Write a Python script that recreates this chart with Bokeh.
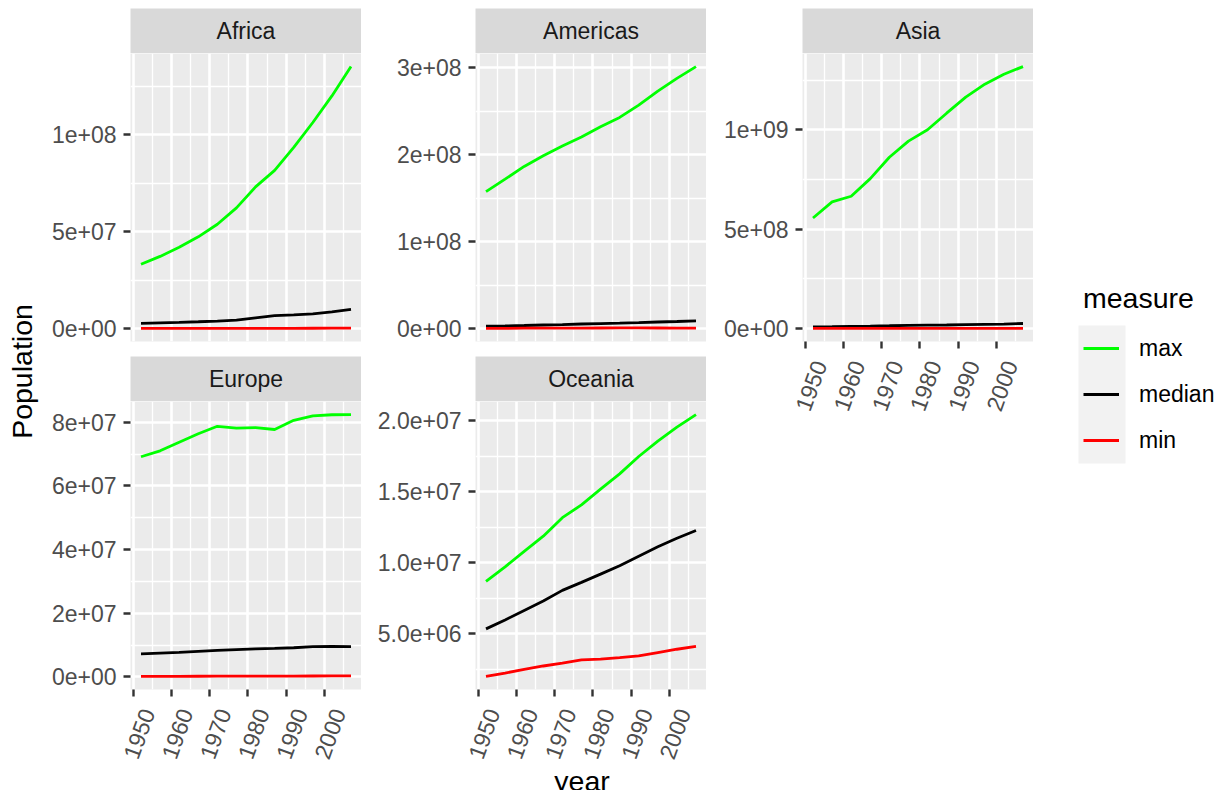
import math
from bokeh.plotting import figure
from bokeh.models import Range1d, FixedTicker, Label, Legend, LegendItem, BoxAnnotation
from bokeh.layouts import row, column
from bokeh.embed import file_html
from bokeh.resources import INLINE
from bokeh.core.validation import silence
from bokeh.core.validation.warnings import MISSING_RENDERERS

silence(MISSING_RENDERERS, True)

# ---------------- data ----------------
years = [1952, 1957, 1962, 1967, 1972, 1977, 1982, 1987, 1992, 1997, 2002, 2007]
measures = ["max", "median", "min"]
measure_colors = ["#00FF00", "#000000", "#FF0000"]

africa_max = [33119096, 37173340, 41871351, 47287752, 53740085, 62209173,
              73039376, 81551520, 93364244, 106207839, 119901274, 135031164]
africa_median = [2700000, 2950000, 3200000, 3500000, 3850000, 4300000,
                 5500000, 6600000, 7000000, 7600000, 8600000, 9900000]
africa_min = [60011, 61325, 65345, 70787, 76595, 86796,
              98593, 110812, 125911, 145608, 170372, 199579]

americas_max = [157553000, 171984000, 186538000, 198712000, 209896000, 220239000,
                232187835, 242803533, 256894189, 272911760, 287675526, 301139947]
americas_median = [3150000, 3500000, 4000000, 4600000, 5000000, 5700000,
                   6200000, 6700000, 7300000, 8000000, 8600000, 9300000]
americas_min = [662850, 764900, 887498, 960155, 975199, 1039009,
                1116479, 1191336, 1183669, 1138101, 1101832, 1056608]

asia_max = [556263527, 637408000, 665770000, 754550000, 862030000, 943455000,
            1000281000, 1084035000, 1164970000, 1230075000, 1280400000, 1318683096]
asia_median = [7982342, 9128546, 10538000, 11900000, 13500000, 15300000,
               16500000, 17300000, 19000000, 20500000, 22200000, 24821286]
asia_min = [120447, 138655, 171863, 202182, 230800, 297410,
            377967, 454612, 529491, 598561, 656397, 708573]

europe_max = [69145952, 71019069, 73739117, 76368453, 78717088, 78160773,
              78335266, 77718298, 80597764, 82011073, 82350671, 82400996]
europe_median = [7200000, 7450000, 7700000, 8000000, 8300000, 8550000,
                 8800000, 8950000, 9150000, 9500000, 9550000, 9500000]
europe_min = [147962, 165110, 182053, 198676, 209275, 221823,
              233997, 244676, 259012, 271192, 288030, 301931]

oceania_max = [8691212, 9712569, 10794968, 11872264, 13177000, 14074100,
               15184200, 16257249, 17481977, 18565243, 19546792, 20434176]
oceania_median = [5343003, 5970988, 6641759, 7300207, 8053050, 8619500,
                  9197425, 9787208, 10459826, 11120715, 11727414, 12274974]
oceania_min = [1994794, 2229407, 2488550, 2728150, 2929100, 3164900,
               3210650, 3317166, 3437674, 3676187, 3908037, 4115771]

x_ticks = [1950, 1960, 1970, 1980, 1990, 2000]
x_tick_labels = ["1950", "1960", "1970", "1980", "1990", "2000"]

africa_yticks = [0, 50000000, 100000000]
africa_ylabels = ["0e+00", "5e+07", "1e+08"]
americas_yticks = [0, 100000000, 200000000, 300000000]
americas_ylabels = ["0e+00", "1e+08", "2e+08", "3e+08"]
asia_yticks = [0, 500000000, 1000000000]
asia_ylabels = ["0e+00", "5e+08", "1e+09"]
europe_yticks = [0, 20000000, 40000000, 60000000, 80000000]
europe_ylabels = ["0e+00", "2e+07", "4e+07", "6e+07", "8e+07"]
oceania_yticks = [5000000, 10000000, 15000000, 20000000]
oceania_ylabels = ["5.0e+06", "1.0e+07", "1.5e+07", "2.0e+07"]

# ---------------- style / layout ----------------
FONT = "Liberation Sans"
PANEL_BG = "#EBEBEB"
STRIP_BG = "#D9D9D9"
MAJOR_W = 2.6
MINOR_W = 1.3
DATA_W = 2.8
TICK_FS = "23px"
TITLE_FS = "28.5px"
FRAME_W = 231
FRAME_H = 288
STRIP_H = 45
TOP = 8
GAP = 15
AXIS_B = 101
L1, L2, L3 = 85, 114, 96
YLAB_W = 45
TOTAL_H = TOP + 2 * STRIP_H + FRAME_H + GAP + FRAME_H + AXIS_B
XLAB_H = 40


def minor_of(ticks):
    step = ticks[1] - ticks[0]
    ext = [ticks[0] - step] + list(ticks) + [ticks[-1] + step]
    return [(a + b) / 2 for a, b in zip(ext[:-1], ext[1:])]


def strip(name, left, top=0):
    s = figure(width=left + FRAME_W, height=STRIP_H + top, x_range=Range1d(0, 1), y_range=Range1d(0, 1),
               x_axis_location=None, y_axis_location=None, toolbar_location=None,
               output_backend="svg", min_border_left=left, min_border_right=0,
               min_border_top=top, min_border_bottom=0)
    s.background_fill_color = STRIP_BG
    s.border_fill_color = "white"
    s.outline_line_color = None
    s.grid.visible = False
    s.add_layout(Label(x=0.5, y=0.5, text=name, text_align="center", text_baseline="middle",
                       text_font=FONT, text_font_size=TICK_FS, text_color="#1A1A1A"))
    return s


def panel(series, yticks, ylabels, left, show_x):
    lo = min(min(v) for v in series)
    hi = max(max(v) for v in series)
    pad = 0.05 * (hi - lo)
    xpad = 0.05 * (years[-1] - years[0])
    bottom = AXIS_B if show_x else GAP
    p = figure(width=left + FRAME_W, height=FRAME_H + bottom,
               x_range=Range1d(years[0] - xpad, years[-1] + xpad),
               y_range=Range1d(lo - pad, hi + pad),
               x_axis_location="below" if show_x else None,
               toolbar_location=None, output_backend="svg",
               min_border_left=left, min_border_right=0, min_border_top=0,
               min_border_bottom=bottom)
    p.background_fill_color = PANEL_BG
    p.border_fill_color = "white"
    p.outline_line_color = None

    p.xgrid.ticker = FixedTicker(ticks=x_ticks, minor_ticks=minor_of(x_ticks))
    p.ygrid.ticker = FixedTicker(ticks=yticks, minor_ticks=minor_of(yticks))
    for g in (p.xgrid, p.ygrid):
        g.grid_line_color = "white"
        g.grid_line_width = MAJOR_W
        g.minor_grid_line_color = "white"
        g.minor_grid_line_width = MINOR_W

    axes = list(p.yaxis) + (list(p.xaxis) if show_x else [])
    for ax in axes:
        ax.axis_line_color = None
        ax.major_tick_in = 0
        ax.major_tick_out = 7
        ax.major_tick_line_color = "#333333"
        ax.major_tick_line_width = 2.4
        ax.minor_tick_line_color = None
        ax.major_label_text_font = FONT
        ax.major_label_text_font_size = TICK_FS
        ax.major_label_text_color = "#4D4D4D"
    p.yaxis.ticker = FixedTicker(ticks=yticks, minor_ticks=[])
    p.yaxis.major_label_overrides = {t: l for t, l in zip(yticks, ylabels)}
    p.yaxis.major_label_standoff = 7
    if show_x:
        p.xaxis.ticker = FixedTicker(ticks=x_ticks, minor_ticks=[])
        # leading line break puts the text's top edge at the tick (like vjust = 1)
        p.xaxis.major_label_overrides = {t: "\n" + l for t, l in zip(x_ticks, x_tick_labels)}
        p.xaxis.major_label_orientation = math.radians(70)
        p.xaxis.major_label_standoff = 8

    for vals, col in zip(series, measure_colors):
        p.line(years, vals, line_color=col, line_width=DATA_W)
    return p


p_af = panel([africa_max, africa_median, africa_min], africa_yticks, africa_ylabels, L1, False)
p_eu = panel([europe_max, europe_median, europe_min], europe_yticks, europe_ylabels, L1, True)
p_am = panel([americas_max, americas_median, americas_min], americas_yticks, americas_ylabels, L2, False)
p_oc = panel([oceania_max, oceania_median, oceania_min], oceania_yticks, oceania_ylabels, L2, True)
p_as = panel([asia_max, asia_median, asia_min], asia_yticks, asia_ylabels, L3, True)

col1 = column(strip("Africa", L1, TOP), p_af, strip("Europe", L1), p_eu)
col2 = column(strip("Americas", L2, TOP), p_am, strip("Oceania", L2), p_oc)
col3 = column(strip("Asia", L3, TOP), p_as)
panels = row(col1, col2, col3)
panels_w = (L1 + FRAME_W) + (L2 + FRAME_W) + (L3 + FRAME_W)

# x axis title: transparent strip laid over the bottom of the panel block
xlab = figure(width=panels_w, height=XLAB_H, x_range=Range1d(0, panels_w), y_range=Range1d(0, XLAB_H),
              x_axis_location=None, y_axis_location=None, toolbar_location=None,
              output_backend="svg", min_border=0, margin=(-XLAB_H, 0, 0, 0))
xlab.outline_line_color = None
xlab.background_fill_alpha = 0
xlab.border_fill_alpha = 0
xlab.grid.visible = False
xlab.add_layout(Label(x=(L1 + panels_w) / 2, y=10, text="year", text_align="center",
                      text_baseline="alphabetic", text_font=FONT, text_font_size=TITLE_FS,
                      text_color="black"))

# y axis title
ylab = figure(width=YLAB_W, height=TOTAL_H, x_range=Range1d(0, YLAB_W), y_range=Range1d(0, TOTAL_H),
              x_axis_location=None, y_axis_location=None, toolbar_location=None,
              output_backend="svg", min_border=0)
ylab.outline_line_color = None
ylab.grid.visible = False
panels_center_from_top = TOP + (STRIP_H + (STRIP_H + FRAME_H + GAP + STRIP_H + FRAME_H)) / 2
ylab.add_layout(Label(x=21, y=TOTAL_H - panels_center_from_top, text="Population",
                      angle=math.pi / 2, text_align="center", text_baseline="middle",
                      text_font=FONT, text_font_size=TITLE_FS, text_color="black"))

# legend
LEG_W = 1225 - YLAB_W - panels_w - 8
leg = figure(width=LEG_W, height=TOTAL_H, x_range=Range1d(0, LEG_W), y_range=Range1d(0, TOTAL_H),
             x_axis_location=None, y_axis_location=None, toolbar_location=None,
             output_backend="svg", min_border=0)
leg.outline_line_color = None
leg.grid.visible = False
items = []
for m, c, vals in zip(measures, measure_colors, [asia_max, asia_median, asia_min]):
    r = leg.line(years, vals, line_color=c, line_width=DATA_W, visible=False)
    items.append(LegendItem(label=m, renderers=[r]))
KEY_H = 46
leg_x0 = YLAB_W + panels_w
key_bottom = TOTAL_H - 463
leg.add_layout(BoxAnnotation(left=1078 - leg_x0, right=1125 - leg_x0, bottom=key_bottom,
                             top=key_bottom + 3 * KEY_H, fill_color="#F2F2F2", fill_alpha=1,
                             line_color=None, level="underlay"))
legend = Legend(items=items, location=(1083 - leg_x0, key_bottom), padding=0, spacing=0, margin=0,
                glyph_width=36, glyph_height=KEY_H, label_standoff=20,
                label_text_font=FONT, label_text_font_size=TICK_FS, label_text_color="black",
                title="measure", title_text_font=FONT, title_text_font_size=TITLE_FS,
                title_text_font_style="normal", title_text_color="black", title_standoff=10,
                background_fill_alpha=0, border_line_color=None)
leg.add_layout(legend)

layout = row(ylab, column(panels, xlab), leg)

open("out.html", "w").write(file_html(layout, INLINE))
